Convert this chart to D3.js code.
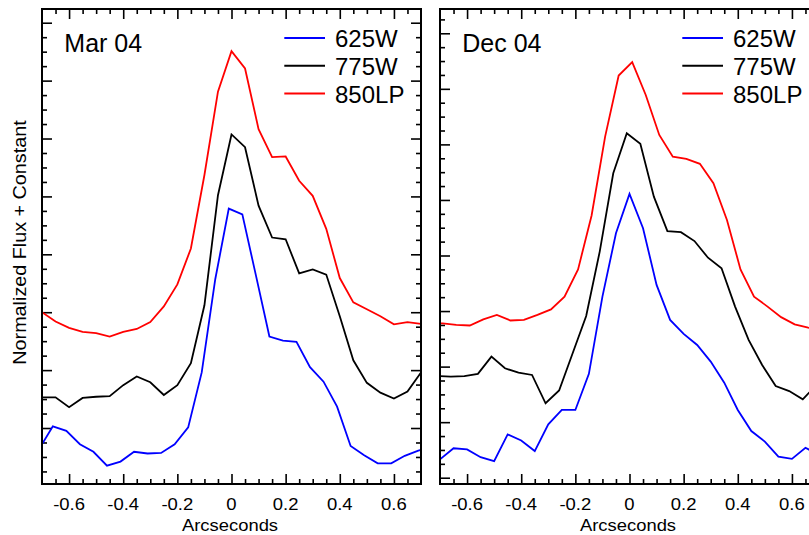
<!DOCTYPE html>
<html><head><meta charset="utf-8">
<script src="https://cdn.jsdelivr.net/npm/d3@7/dist/d3.min.js"></script>
<style>body{margin:0;background:#fff;overflow:hidden}svg{display:block}</style>
</head><body>
<script>
// ---- data ----
const seriesNames = ["625W", "775W", "850LP"];
const seriesColors = ["#0000ff", "#000000", "#ff0000"];
const xTickMajor = [-0.6, -0.4, -0.2, 0, 0.2, 0.4, 0.6];
const panelTitles = ["Mar 04", "Dec 04"];

const xGrid = [-0.70,-0.65,-0.60,-0.55,-0.50,-0.45,-0.40,-0.35,-0.30,-0.25,-0.20,-0.15,-0.10,-0.05,0.00,0.05,0.10,0.15,0.20,0.25,0.30,0.35,0.40,0.45,0.50,0.55,0.60,0.65,0.70];
const xGridMinus = [-0.71,-0.66,-0.61,-0.56,-0.51,-0.46,-0.41,-0.36,-0.31,-0.26,-0.21,-0.16,-0.11,-0.06,-0.01,0.04,0.09,0.14,0.19,0.24,0.29,0.34,0.39,0.44,0.49,0.54,0.59,0.64,0.69,0.74];
const xGridPlus = [-0.74,-0.69,-0.64,-0.59,-0.54,-0.49,-0.44,-0.39,-0.34,-0.29,-0.24,-0.19,-0.14,-0.09,-0.04,0.01,0.06,0.11,0.16,0.21,0.26,0.31,0.36,0.41,0.46,0.51,0.56,0.61,0.66,0.71];

// Mar 04
const mar625 = [0.64,1.03,0.95,0.72,0.59,0.35,0.42,0.59,0.56,0.57,0.72,1.01,1.96,3.57,4.79,4.69,3.64,2.58,2.51,2.49,2.05,1.80,1.37,0.69,0.53,0.39,0.39,0.52,0.61,0.67];
const mar775 = [1.53,1.53,1.36,1.52,1.54,1.55,1.74,1.89,1.79,1.57,1.74,2.12,3.12,5.02,6.07,5.85,4.84,4.29,4.26,3.67,3.74,3.65,2.93,2.17,1.78,1.61,1.51,1.63,1.96];
const mar850 = [3.00,2.84,2.73,2.66,2.64,2.58,2.66,2.71,2.83,3.10,3.48,4.10,5.37,6.81,7.51,7.21,6.16,5.68,5.69,5.27,5.01,4.44,3.59,3.17,3.05,2.93,2.79,2.83,2.80];
// Dec 04
const dec625 = [1.33,1.53,1.51,1.37,1.30,1.78,1.67,1.48,1.96,2.22,2.22,2.87,4.26,5.40,6.11,5.49,4.47,3.84,3.59,3.39,3.09,2.71,2.22,1.84,1.65,1.38,1.34,1.54,1.41];
const dec775 = [2.83,2.82,2.83,2.87,3.18,2.97,2.89,2.85,2.34,2.57,3.24,3.91,5.07,6.48,7.20,7.01,6.06,5.44,5.42,5.26,4.96,4.77,4.08,3.48,3.03,2.65,2.56,2.41,2.67,2.79];
const dec850 = [3.78,3.78,3.75,3.74,3.85,3.93,3.83,3.84,3.93,4.03,4.26,4.75,5.72,7.14,8.24,8.48,7.89,7.17,6.78,6.74,6.65,6.30,5.64,4.75,4.26,4.08,3.89,3.76,3.70,3.66];

const marYDomain = [0.033, 8.237];
const decYDomain = [0.887, 9.437];

// ---- layout ----
const W = 809, H = 535;
const FONT = "'Liberation Sans', Arial, Helvetica, sans-serif";
const svg = d3.select("body").append("svg").attr("width", W).attr("height", H);

const panels = [
  { x0: 42, x1: 421, yDomain: marYDomain, title: panelTitles[0],
    series: [{x: xGridMinus, y: mar625}, {x: xGrid, y: mar775}, {x: xGrid, y: mar850}] },
  { x0: 440, x1: 819, yDomain: decYDomain, title: panelTitles[1],
    series: [{x: xGrid, y: dec625}, {x: xGridMinus, y: dec775}, {x: xGridPlus, y: dec850}] }
];
const yTop = 9, yBot = 484;

function txt(g, x, y, s, size, sx, anchor, rot) {
  const t = g.append("text")
    .attr("transform", `translate(${x},${y})` + (rot ? ` rotate(${rot})` : "") + ` scale(${sx},1)`)
    .attr("text-anchor", anchor || "start")
    .attr("font-family", FONT).attr("font-size", size).attr("fill", "#000")
    .text(s);
  return t;
}
const fmt = d => d === 0 ? "0" : d3.format(".1f")(d).replace("\u2212", "-");

panels.forEach((p, pi) => {
  const x = d3.scaleLinear().domain([-0.7, 0.7]).range([p.x0, p.x1]);
  const y = d3.scaleLinear().domain(p.yDomain).range([yBot, yTop]);
  const g = svg.append("g");
  const clipId = "clip" + pi;
  svg.append("clipPath").attr("id", clipId).append("rect")
    .attr("x", p.x0).attr("y", yTop).attr("width", p.x1 - p.x0).attr("height", yBot - yTop);

  // x ticks
  const xMinor = d3.range(-13, 14).map(k => k * 0.05).filter(v => Math.abs(Math.round(v * 100) % 20) !== 0);
  const xMajor = xTickMajor;
  const axB = d3.axisBottom(x).tickValues(xMajor).tickSize(-10).tickFormat("");
  const axBm = d3.axisBottom(x).tickValues(xMinor).tickSize(-5).tickFormat("");
  const axT = d3.axisTop(x).tickValues(xMajor).tickSize(-10).tickFormat("");
  const axTm = d3.axisTop(x).tickValues(xMinor).tickSize(-5).tickFormat("");
  // y ticks
  const [ylo, yhi] = p.yDomain;
  const yMajor = d3.range(Math.ceil(ylo), Math.floor(yhi) + 1);
  const yMinor = d3.range(Math.ceil(ylo * 4), Math.floor(yhi * 4) + 1).map(k => k / 4).filter(v => v % 1 !== 0);
  const axL = d3.axisLeft(y).tickValues(yMajor).tickSize(-10).tickFormat("");
  const axLm = d3.axisLeft(y).tickValues(yMinor).tickSize(-5).tickFormat("");
  const axR = d3.axisRight(y).tickValues(yMajor).tickSize(-10).tickFormat("");
  const axRm = d3.axisRight(y).tickValues(yMinor).tickSize(-5).tickFormat("");

  const ticks = g.append("g");
  const addAx = (ax, tr) => {
    const a = ticks.append("g").attr("transform", tr).call(ax);
    a.select(".domain").remove();
    a.selectAll("text").remove();
    a.selectAll("line").attr("stroke", "#000").attr("stroke-width", 1.6);
    return a;
  };
  addAx(axB, `translate(0,${yBot})`);
  addAx(axBm, `translate(0,${yBot})`);
  addAx(axT, `translate(0,${yTop})`);
  addAx(axTm, `translate(0,${yTop})`);
  addAx(axL, `translate(${p.x0},0)`);
  addAx(axLm, `translate(${p.x0},0)`);
  addAx(axR, `translate(${p.x1},0)`);
  addAx(axRm, `translate(${p.x1},0)`);

  // tick labels
  xMajor.forEach(v => txt(g, x(v), 509.5, fmt(v), 16.5, 1.12, "middle"));
  // x label
  txt(g, (p.x0 + p.x1) / 2 - 1.5, 531, "Arcseconds", 16, 1.15, "middle");

  // lines
  const lg = g.append("g").attr("clip-path", `url(#${clipId})`);
  p.series.forEach((s, si) => {
    const pts = s.x.map((xv, i) => [xv, s.y[i]]);
    lg.append("path").datum(pts)
      .attr("fill", "none").attr("stroke", seriesColors[si]).attr("stroke-width", 1.8)
      .attr("stroke-linejoin", "miter")
      .attr("d", d3.line().x(d => x(d[0])).y(d => y(d[1])));
  });

  // frame
  g.append("rect").attr("x", p.x0).attr("y", yTop).attr("width", p.x1 - p.x0).attr("height", yBot - yTop)
    .attr("fill", "none").attr("stroke", "#000").attr("stroke-width", 2);

  // title
  txt(g, p.x0 + 22.3, 52.3, p.title, 25, 1, "start");

  // legend
  seriesNames.forEach((n, i) => {
    const ly = 38 + i * 27.8;
    g.append("line").attr("x1", p.x0 + 242.3).attr("x2", p.x0 + 283).attr("y1", ly).attr("y2", ly)
      .attr("stroke", seriesColors[i]).attr("stroke-width", 2);
    txt(g, p.x0 + 293, ly + 9.3, n, 24, 1, "start");
  });
});

// y label
txt(svg, 25.5, 242.5, "Normalized Flux + Constant", 17.5, 1.13, "middle", -90);
</script>
</body></html>
